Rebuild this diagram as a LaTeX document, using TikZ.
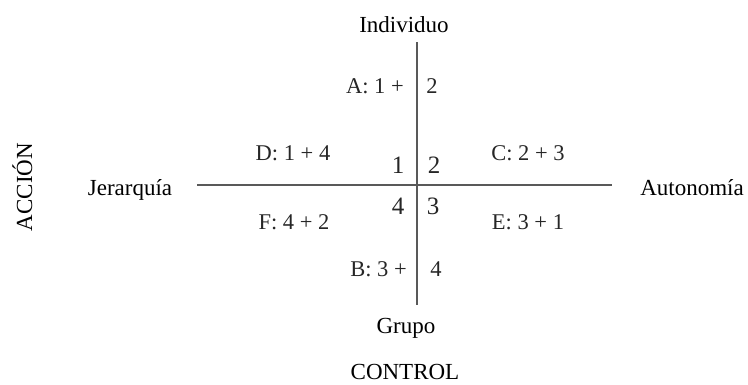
\documentclass[tikz,border=0pt]{standalone}
\usepackage{fontspec}
\setmainfont{Liberation Serif}
\begin{document}
\begin{tikzpicture}[x=1pt,y=-1pt,
  outer/.style={inner sep=0pt,anchor=base,font=\fontsize{23}{23}\selectfont},
  lab/.style={inner sep=0pt,anchor=base,font=\fontsize{22.5}{22.5}\selectfont,text=black!85},
  big/.style={inner sep=0pt,anchor=base,font=\fontsize{25}{25}\selectfont,text=black!85},
  axis/.style={draw=black!65,line width=1.2pt}]
\useasboundingbox (0,0) rectangle (748,384);
% axes
\coordinate (top) at (417,42);
\coordinate (bot) at (417,305);
\coordinate (lft) at (197,185);
\coordinate (rgt) at (612,185);
\draw[axis] (lft) -- (rgt);
\draw[axis] (top) -- (bot);
% outer labels
\node[outer] (ind) at (404,32) {Individuo};
\node[outer] (gru) at (406,333) {Grupo};
\node[outer] (jer) at (130,195) {Jerarquía};
\node[outer] (aut) at (692,195) {Autonomía};
\node[outer] (ctl) at (405,379) {CONTROL};
\node[outer,rotate=90] (acc) at (32,187) {ACCIÓN};
% inner labels
\node[lab,anchor=base east] (a) at (404,93.5) {A: 1 +};
\node[lab] (a2) at (432,93.5) {2};
\node[lab] (d) at (293,160.5) {D: 1 + 4};
\node[lab] (c) at (528,160.5) {C: 2 + 3};
\node[lab] (f) at (294,229.5) {F: 4 + 2};
\node[lab] (e) at (528,229.5) {E: 3 + 1};
\node[lab,anchor=base east] (b) at (407,276.5) {B: 3 +};
\node[lab] (b4) at (436,276.5) {4};
\node[big] (n1) at (398,173) {1};
\node[big] (n2) at (434,173) {2};
\node[big] (n4) at (398,214) {4};
\node[big] (n3) at (433,214) {3};
\end{tikzpicture}
\end{document}
